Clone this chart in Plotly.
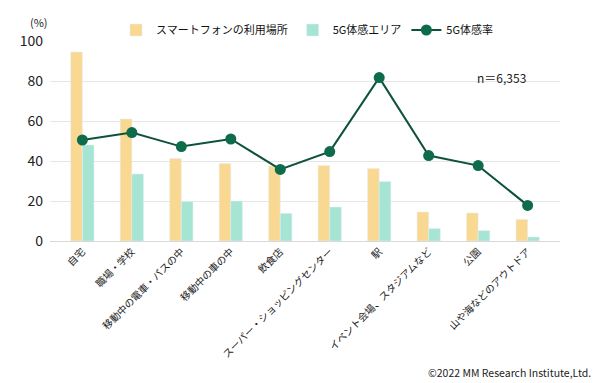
import plotly.graph_objects as go

categories = ["自宅", "職場・学校", "移動中の電車・バスの中", "移動中の車の中", "飲食店",
              "スーパー・ショッピングセンター", "駅", "イベント会場、スタジアムなど", "公園", "山や海などのアウトドア"]
smartphone_use = [94.5, 61.0, 41.2, 38.7, 37.5, 37.7, 36.3, 14.5, 14.0, 10.8]
area_5g = [48.0, 33.5, 19.7, 20.0, 13.8, 17.0, 29.7, 6.2, 5.2, 2.0]
rate_5g = [50.5, 54.2, 47.2, 51.0, 35.8, 44.7, 81.7, 42.7, 37.7, 17.8]

FONT = "Noto Sans CJK JP"
W, H = 600, 383
# plot area in page pixels: x 50..560, y 41..241
L, R, T, B = 50, W - 560, 41, H - 241
PW, PH = W - L - R, H - T - B


def px(x):
    return (x - L) / PW


def py(y):
    return (H - B - y) / PH


fig = go.Figure()
fig.add_trace(go.Bar(x=categories, y=smartphone_use, name="スマートフォンの利用場所",
                     marker_color="#f9d992"))
fig.add_trace(go.Bar(x=categories, y=area_5g, name="5G体感エリア",
                     marker_color="#a6e5d4"))
fig.add_trace(go.Scatter(x=categories, y=rate_5g, name="5G体感率", mode="lines+markers",
                         line=dict(color="#0d5239", width=2),
                         marker=dict(color="#0e6b4c", size=11)))

fig.update_layout(
    width=W, height=H,
    margin=dict(l=L, r=R, t=T, b=B, autoexpand=False),
    paper_bgcolor="white", plot_bgcolor="white",
    font=dict(family=FONT, color="#222222"),
    barmode="group", bargap=0.53, bargroupgap=0,
    showlegend=True,
    legend=dict(orientation="h", x=116 / W, y=1 - 30 / H,
                xref="container", yref="container",
                xanchor="left", yanchor="middle",
                font=dict(size=11, color="#111111"), itemwidth=30,
                bgcolor="rgba(0,0,0,0)"),
    xaxis=dict(tickangle=-45, tickfont=dict(size=10, color="#222222"), showline=True,
               linecolor="#d9d9d9", ticks="", automargin=False),
    yaxis=dict(range=[0, 100], dtick=20, tickfont=dict(size=14), gridcolor="#e6e6e6",
               zeroline=False, ticks="", automargin=False, ticklabelstandoff=6),
    annotations=[
        dict(text="(%)", x=px(50), y=py(22), xref="paper", yref="paper",
             xanchor="right", yanchor="middle", showarrow=False, font=dict(size=11)),
        dict(text="n＝6,353", x=px(528), y=py(77), xref="paper", yref="paper", xanchor="right",
             yanchor="middle", showarrow=False, font=dict(size=12)),
        dict(text="©2022 MM Research Institute,Ltd.", x=px(593), y=py(372),
             xref="paper", yref="paper", xanchor="right", yanchor="middle",
             showarrow=False, font=dict(size=10.5)),
    ],
)
fig.write_html("out.html", config={"displayModeBar": False},
               post_script="document.body.style.margin='0';document.body.style.overflow='hidden';")
